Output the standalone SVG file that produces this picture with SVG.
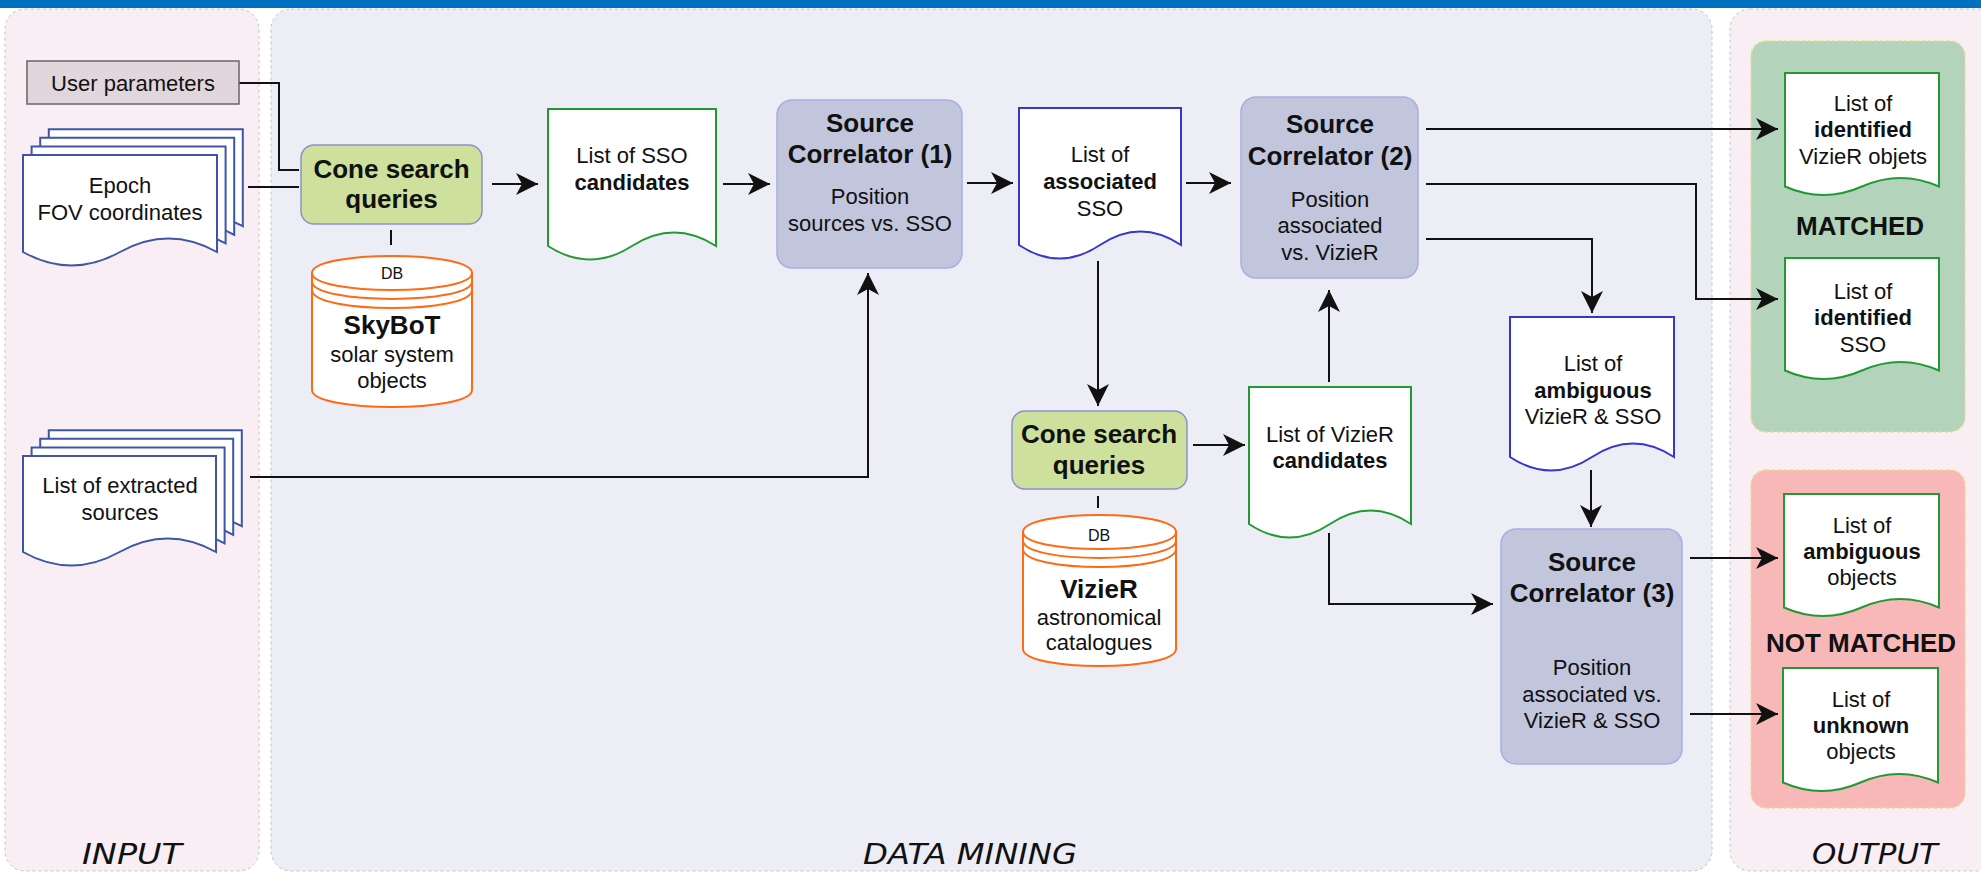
<svg xmlns="http://www.w3.org/2000/svg" xmlns:xlink="http://www.w3.org/1999/xlink" width="1981" height="873" viewBox="0 0 1981 873">
<style>
.t{font-family:"Liberation Sans",Arial,sans-serif;font-size:22px;text-anchor:middle;fill:#111}
.b{font-weight:bold}
.h{font-size:26px;font-weight:bold}
.s{font-size:16px}
.lab{font-family:"DejaVu Sans",Verdana,sans-serif;font-style:italic;font-size:28px;text-anchor:middle;fill:#111}
.ln{fill:none;stroke:#111;stroke-width:2}
.arr{marker-end:url(#arr)}
.docg{fill:#fff;stroke:#229933;stroke-width:2}
.docb{fill:#fff;stroke:#3636cc;stroke-width:2}
.docm{fill:#fff;stroke:#3d56a8;stroke-width:2}
.db{fill:#fff;stroke:#ff6a14;stroke-width:2}
.dbl{fill:none;stroke:#ff6a14;stroke-width:2}
.cone{fill:#cde09c;stroke:#8c91c9;stroke-width:1.5}
.sc{fill:#c2c6dd;stroke:#a9aee2;stroke-width:1.5}
.panel{stroke:#c4c4c4;stroke-width:1;stroke-dasharray:3 3}
.grp{stroke:#e8dc8c;stroke-width:1.5;stroke-dasharray:3 3}
</style>
<defs>
<marker id="arr" markerUnits="userSpaceOnUse" markerWidth="24" markerHeight="24" refX="22" refY="11" orient="auto">
<path d="M0,0 L22,11 L0,22 L6,11 Z" fill="#111"/>
</marker>
<path id="pageE" d="M23,155 H217 V252 Q168.5,225 120,252 Q71.5,279 23,252 Z"/>
<path id="pageS" d="M23,456 H216 V552 Q167.75,525 119.5,552 Q71.25,579 23,552 Z"/>
</defs>
<rect x="0" y="0" width="1981" height="873" fill="#ffffff"/>
<rect x="0" y="0" width="1981" height="8" fill="#0070c0"/>

<g id="panels">
<rect class="panel" x="5" y="9" width="254" height="862" rx="20" fill="#f8eef4"/>
<rect class="panel" x="271" y="9" width="1441" height="862" rx="20" fill="#ededf6"/>
<rect class="panel" x="1730" y="9" width="270" height="862" rx="20" fill="#f8eef4"/>
<text class="lab" x="132" y="864" textLength="100" lengthAdjust="spacingAndGlyphs">INPUT</text>
<text class="lab" x="970" y="864" textLength="214" lengthAdjust="spacingAndGlyphs">DATA MINING</text>
<text class="lab" x="1875" y="864" textLength="126" lengthAdjust="spacingAndGlyphs">OUTPUT</text>
</g>

<g id="group-matched">
<rect class="grp" x="1751" y="41" width="214" height="391" rx="15" fill="#b3d3ba"/>
<text class="t h" x="1860" y="235">MATCHED</text>
</g>
<g id="group-notmatched">
<rect class="grp" x="1751" y="470" width="214" height="338" rx="15" fill="#f8b8b8"/>
<text class="t h" x="1861" y="652">NOT MATCHED</text>
</g>

<g id="connectors">
<path class="ln" d="M239,83 H279 V170 H299"/>
<path class="ln" d="M248,187 H299"/>
<path class="ln" d="M391,230 V245"/>
<path class="ln arr" d="M492,184 H538"/>
<path class="ln arr" d="M723,184 H770"/>
<path class="ln arr" d="M250,477 H868 V273"/>
<path class="ln arr" d="M967,183 H1013"/>
<path class="ln arr" d="M1186,183 H1231"/>
<path class="ln arr" d="M1098,261 V406"/>
<path class="ln" d="M1098,496 V508"/>
<path class="ln arr" d="M1193,445 H1245"/>
<path class="ln arr" d="M1329,382 V290"/>
<path class="ln arr" d="M1329,533 V604 H1493"/>
<path class="ln arr" d="M1426,129 H1778"/>
<path class="ln arr" d="M1426,184 H1696 V299 H1778"/>
<path class="ln arr" d="M1426,239 H1592 V313"/>
<path class="ln arr" d="M1591,470 V527"/>
<path class="ln arr" d="M1690,558 H1778"/>
<path class="ln arr" d="M1690,714 H1778"/>
</g>

<g id="user-parameters">
<rect x="27" y="61" width="212" height="43" fill="#e0d6dc" stroke="#666" stroke-width="1.5"/>
<text class="t" x="133" y="91">User parameters</text>
</g>

<g id="epoch-fov">
<use xlink:href="#pageE" class="docm" transform="translate(25.8,-25.8)"/>
<use xlink:href="#pageE" class="docm" transform="translate(17.2,-17.2)"/>
<use xlink:href="#pageE" class="docm" transform="translate(8.6,-8.6)"/>
<use xlink:href="#pageE" class="docm"/>
<text class="t" x="120" y="193">Epoch</text>
<text class="t" x="120" y="220">FOV coordinates</text>
</g>

<g id="extracted-sources">
<use xlink:href="#pageS" class="docm" transform="translate(25.8,-25.8)"/>
<use xlink:href="#pageS" class="docm" transform="translate(17.2,-17.2)"/>
<use xlink:href="#pageS" class="docm" transform="translate(8.6,-8.6)"/>
<use xlink:href="#pageS" class="docm"/>
<text class="t" x="120" y="493">List of extracted</text>
<text class="t" x="120" y="520">sources</text>
</g>

<g id="cone-search-1">
<rect class="cone" x="301" y="145" width="181" height="79" rx="13"/>
<text class="t h" x="391.5" y="178">Cone search</text>
<text class="t h" x="391.5" y="208">queries</text>
</g>

<g id="skybot-db">
<path class="db" d="M312,273 C312,250.3 472,250.3 472,273 V390 C472,412.7 312,412.7 312,390 Z"/>
<path class="dbl" d="M312,273 C312,295.7 472,295.7 472,273 M312,281.5 C312,304.8 472,304.8 472,281.5 M312,290 C312,314 472,314 472,290"/>
<text class="t s" x="392" y="279">DB</text>
<text class="t h" x="392" y="334">SkyBoT</text>
<text class="t" x="392" y="362">solar system</text>
<text class="t" x="392" y="388">objects</text>
</g>

<g id="sso-candidates">
<path class="docg" d="M548,109 H716 V246 Q674,219 632,246 Q590,273 548,246 Z"/>
<text class="t" x="632" y="163">List of SSO</text>
<text class="t b" x="632" y="190">candidates</text>
</g>

<g id="source-correlator-1">
<rect class="sc" x="777" y="100" width="185" height="168" rx="15"/>
<text class="t h" x="870" y="132">Source</text>
<text class="t h" x="870" y="163">Correlator (1)</text>
<text class="t" x="870" y="204">Position</text>
<text class="t" x="870" y="231">sources vs. SSO</text>
</g>

<g id="associated-sso">
<path class="docb" d="M1019,108 H1181 V245 Q1140.5,218 1100,245 Q1059.5,272 1019,245 Z"/>
<text class="t" x="1100" y="162">List of</text>
<text class="t b" x="1100" y="189">associated</text>
<text class="t" x="1100" y="216">SSO</text>
</g>

<g id="source-correlator-2">
<rect class="sc" x="1241" y="97" width="177" height="181" rx="15"/>
<text class="t h" x="1330" y="133">Source</text>
<text class="t h" x="1330" y="165">Correlator (2)</text>
<text class="t" x="1330" y="207">Position</text>
<text class="t" x="1330" y="233">associated</text>
<text class="t" x="1330" y="260">vs. VizieR</text>
</g>

<g id="cone-search-2">
<rect class="cone" x="1012" y="411" width="175" height="78" rx="13"/>
<text class="t h" x="1099" y="443">Cone search</text>
<text class="t h" x="1099" y="474">queries</text>
</g>

<g id="vizier-db">
<path class="db" d="M1023,532 C1023,509.3 1176,509.3 1176,532 V649 C1176,671.7 1023,671.7 1023,649 Z"/>
<path class="dbl" d="M1023,532 C1023,554.7 1176,554.7 1176,532 M1023,540.5 C1023,563.8 1176,563.8 1176,540.5 M1023,549 C1023,573 1176,573 1176,549"/>
<text class="t s" x="1099" y="541">DB</text>
<text class="t h" x="1099" y="598">VizieR</text>
<text class="t" x="1099" y="625">astronomical</text>
<text class="t" x="1099" y="650">catalogues</text>
</g>

<g id="vizier-candidates">
<path class="docg" d="M1249,387 H1411 V524 Q1370.5,497 1330,524 Q1289.5,551 1249,524 Z"/>
<text class="t" x="1330" y="442">List of VizieR</text>
<text class="t b" x="1330" y="468">candidates</text>
</g>

<g id="ambiguous-vizier-sso">
<path class="docb" d="M1510,317 H1674 V457 Q1633,430 1592,457 Q1551,484 1510,457 Z"/>
<text class="t" x="1593" y="371">List of</text>
<text class="t b" x="1593" y="398">ambiguous</text>
<text class="t" x="1593" y="424">VizieR &amp; SSO</text>
</g>

<g id="source-correlator-3">
<rect class="sc" x="1501" y="529" width="181" height="235" rx="15"/>
<text class="t h" x="1592" y="571">Source</text>
<text class="t h" x="1592" y="602">Correlator (3)</text>
<text class="t" x="1592" y="675">Position</text>
<text class="t" x="1592" y="702">associated vs.</text>
<text class="t" x="1592" y="728">VizieR &amp; SSO</text>
</g>

<g id="identified-vizier">
<path class="docg" d="M1785,73 H1939 V186.5 Q1900.5,169.4 1862,186.5 Q1823.5,203.6 1785,186.5 Z"/>
<text class="t" x="1863" y="111">List of</text>
<text class="t b" x="1863" y="137">identified</text>
<text class="t" x="1863" y="164">VizieR objets</text>
</g>

<g id="identified-sso">
<path class="docg" d="M1785,258 H1939 V370.5 Q1900.5,353.4 1862,370.5 Q1823.5,387.6 1785,370.5 Z"/>
<text class="t" x="1863" y="299">List of</text>
<text class="t b" x="1863" y="325">identified</text>
<text class="t" x="1863" y="352">SSO</text>
</g>

<g id="ambiguous-objects">
<path class="docg" d="M1784,494 H1939 V607.5 Q1900.25,590.4 1861.5,607.5 Q1822.75,624.6 1784,607.5 Z"/>
<text class="t" x="1862" y="533">List of</text>
<text class="t b" x="1862" y="559">ambiguous</text>
<text class="t" x="1862" y="585">objects</text>
</g>

<g id="unknown-objects">
<path class="docg" d="M1783,668 H1938 V782.5 Q1899.25,765.4 1860.5,782.5 Q1821.75,799.6 1783,782.5 Z"/>
<text class="t" x="1861" y="707">List of</text>
<text class="t b" x="1861" y="733">unknown</text>
<text class="t" x="1861" y="759">objects</text>
</g>
</svg>
